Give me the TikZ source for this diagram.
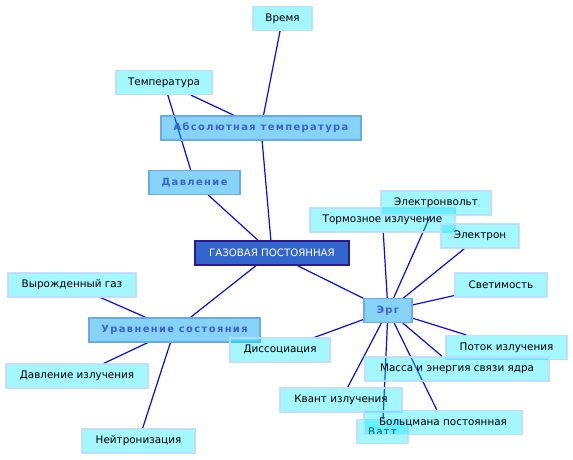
\documentclass[tikz,border=0pt]{standalone}
\usepackage{fontspec}
\setmainfont{DejaVu Sans}
\newfontfamily\spaced[LetterSpace=14]{DejaVu Sans}
\newfontfamily\spacedthin[LetterSpace=10]{DejaVu Sans}
\pgfdeclarelayer{bg}
\pgfsetlayers{bg,main}
\definecolor{leaffill}{RGB}{0,235,255}
\definecolor{leafline}{RGB}{190,220,255}
\definecolor{keyfill}{RGB}{0,160,240}
\definecolor{keyline}{RGB}{105,170,232}
\definecolor{keytext}{RGB}{58,98,205}
\definecolor{rootfill}{RGB}{51,102,204}
\definecolor{rootline}{RGB}{42,28,144}
\definecolor{wire}{RGB}{10,10,245}
\begin{document}
\begin{tikzpicture}[x=1pt,y=-1pt,
  box/.style={rectangle,inner sep=0pt,minimum height=24pt,text opacity=1},
  leaf/.style={box,draw=leafline,line width=1.2pt,fill=leaffill,fill opacity=0.36,draw opacity=0.9,
     font=\fontsize{10.4}{12}\selectfont,text=black},
  key/.style={box,draw=keyline,line width=1.2pt,fill=keyfill,fill opacity=0.47,
     font=\fontsize{9.9}{11}\spaced\bfseries,text=keytext},
  root/.style={box,draw=rootline,line width=1.4pt,fill=rootfill,
     font=\fontsize{10.2}{12}\selectfont,text=white},
  wire/.style={draw=wire,line width=1.2pt}]
\useasboundingbox (0,0) rectangle (573,460);
% nodes
\node[leaf,minimum width=59pt] (vremya) at (282.5,18.5) {Время};
\node[leaf,minimum width=96pt] (temp) at (164,82.5) {Температура};
\node[key,minimum width=200pt] (abs) at (261,128) {Абсолютная температура};
\node[key,minimum width=91pt] (davl) at (194.5,182.5) {Давление};
\node[root,minimum width=154pt] (gas) at (272,253) {ГАЗОВАЯ ПОСТОЯННАЯ};
\node[leaf,minimum width=128pt] (vyr) at (72,285) {Вырожденный газ};
\node[key,minimum width=171pt] (urav) at (174.5,330) {Уравнение состояния};
\node[leaf,minimum width=142pt] (davlizl) at (77,376) {Давление излучения};
\node[leaf,minimum width=113pt] (neutr) at (138.5,441) {Нейтронизация};
\node[leaf,minimum width=100pt] (diss) at (280,350) {Диссоциация};
\node[leaf,minimum width=145pt] (torm) at (382.5,220) {Тормозное излучение};
\node[leaf,minimum width=110pt] (evolt) at (436,203) {Электронвольт};
\node[leaf,minimum width=78pt] (elec) at (480,236) {Электрон};
\node[leaf,minimum width=92pt] (svet) at (501,285) {Светимость};
\node[leaf,minimum width=121pt] (potok) at (506.5,347.5) {Поток излучения};
\node[leaf,minimum width=184pt] (massa) at (457,369) {Масса и энергия связи ядра};
\node[leaf,minimum width=122pt] (kvant) at (341,400) {Квант излучения};
\node[leaf,minimum width=51pt,font=\fontsize{10.4}{12}\spacedthin,text=black] (vatt) at (382.5,431.5) {Ватт};
\node[leaf,minimum width=158pt] (bolt) at (443,422.5) {Больцмана постоянная};
\node[key,minimum width=48pt] (erg) at (388,310.5) {Эрг};
% connectors
\begin{pgfonlayer}{bg}
\fill[white] (0,0) rectangle (573,460);
\draw[wire] (vremya) -- (abs);
\draw[wire] (temp) -- (abs);
\draw[wire] (temp) -- (davl);
\draw[wire] (abs) -- (gas);
\draw[wire] (davl) -- (gas);
\draw[wire] (gas) -- (erg);
\draw[wire] (gas) -- (urav);
\draw[wire] (urav) -- (vyr);
\draw[wire] (urav) -- (davlizl);
\draw[wire] (urav) -- (neutr);
\draw[wire] (erg) -- (torm);
\draw[wire] (erg) -- (evolt);
\draw[wire] (erg) -- (elec);
\draw[wire] (erg) -- (svet);
\draw[wire] (erg) -- (potok);
\draw[wire] (erg) -- (massa);
\draw[wire] (erg) -- (bolt);
\draw[wire] (erg) -- (vatt);
\draw[wire] (erg) -- (kvant);
\draw[wire] (erg) -- (diss);
\end{pgfonlayer}
\end{tikzpicture}
\end{document}
